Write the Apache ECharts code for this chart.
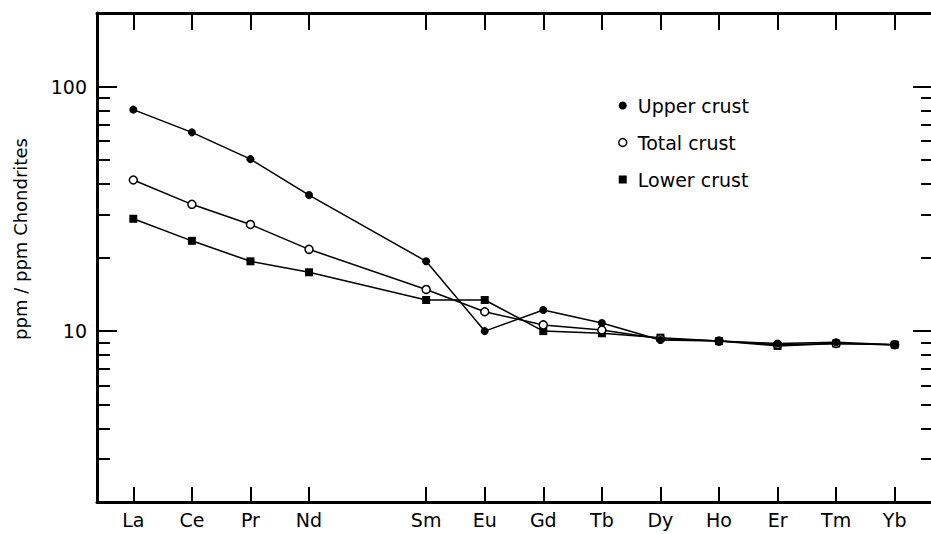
<!DOCTYPE html>
<html>
<head>
<meta charset="utf-8">
<script src="https://cdn.jsdelivr.net/npm/echarts@6/dist/echarts.min.js"></script>
<style>
html,body{margin:0;padding:0;background:#fff;}
#chart{width:931px;height:534px;}
</style>
</head>
<body>
<div id="chart"></div>
<script>
// Lanthanide sequence (Pm has no data and no tick)
const lanthanides = ['La','Ce','Pr','Nd','Pm','Sm','Eu','Gd','Tb','Dy','Ho','Er','Tm','Yb'];
const elements = ['La','Ce','Pr','Nd','Sm','Eu','Gd','Tb','Dy','Ho','Er','Tm','Yb'];
const upperCrust = [80.5, 65, 50.5, 36, 19.3, 10.0, 12.2, 10.8, 9.2, 9.1, 8.9, 9.0, 8.8];
const totalCrust = [41.5, 33, 27.3, 21.6, 14.8, 12.0, 10.6, 10.1, 9.3, 9.1, 8.8, 8.9, 8.8];
const lowerCrust = [28.8, 23.4, 19.3, 17.4, 13.4, 13.4, 10.0, 9.8, 9.4, 9.1, 8.7, 8.9, 8.8];
const yMajorTicks = [10, 100];
const yMinorTicks = [3, 4, 5, 6, 7, 8, 9, 20, 30, 40, 50, 60, 70, 80, 90];
const yLabels = [10, 100];
const seriesNames = ['Upper crust', 'Total crust', 'Lower crust'];

const slots = elements.map(e => lanthanides.indexOf(e));
const toData = vals => elements.map((e, i) => [lanthanides.indexOf(e), vals[i]]);

const FONT = 'DejaVu Sans';
const black = '#000';

const chart = echarts.init(document.getElementById('chart'), null, {renderer: 'svg'});

const xBase = {
  type: 'value', min: -0.62, max: 13.62,
  splitLine: {show: false}
};
const yBase = {
  type: 'log', logBase: 10, min: 2, max: 200,
  splitLine: {show: false}, minorTick: {show: false}
};

chart.setOption({
  animation: false,
  backgroundColor: '#fff',
  grid: {left: 97, right: -1, top: 13, bottom: 32, containLabel: false},
  legend: {
    orient: 'vertical', left: 613, top: 91, itemGap: 18,
    itemWidth: 8, itemHeight: 8,
    textStyle: {fontFamily: FONT, fontSize: 19, color: black, padding: [0, 0, 0, 6]},
    data: [
      {name: seriesNames[0], icon: 'circle', itemStyle: {color: black, borderWidth: 0}},
      {name: seriesNames[1], icon: 'circle', itemStyle: {color: '#fff', borderColor: black, borderWidth: 1.5}},
      {name: seriesNames[2], icon: 'rect', itemStyle: {color: black, borderWidth: 0}}
    ]
  },
  xAxis: [
    Object.assign({}, xBase, {
      position: 'bottom',
      axisLine: {show: true, onZero: false, lineStyle: {color: black, width: 3}},
      axisTick: {show: true, inside: true, length: 15, customValues: slots, lineStyle: {color: black, width: 2}},
      axisLabel: {show: true, customValues: slots, formatter: v => lanthanides[Math.round(v)],
        fontFamily: FONT, fontSize: 19, color: black, margin: 8}
    }),
    Object.assign({}, xBase, {
      position: 'top',
      axisLine: {show: true, onZero: false, lineStyle: {color: black, width: 3}},
      axisTick: {show: true, inside: true, length: 17, customValues: slots, lineStyle: {color: black, width: 2}},
      axisLabel: {show: false}
    })
  ],
  yAxis: [
    Object.assign({}, yBase, {
      position: 'left',
      axisLine: {show: true, onZero: false, lineStyle: {color: black, width: 3}},
      axisTick: {show: true, inside: true, length: 20, customValues: yMajorTicks, lineStyle: {color: black, width: 2}},
      axisLabel: {show: true, customValues: yLabels, fontFamily: FONT, fontSize: 19, color: black, margin: 10},
      name: 'ppm / ppm Chondrites', nameLocation: 'middle', nameGap: 68, nameRotate: 90,
      nameTextStyle: {fontFamily: FONT, fontSize: 18, color: black, padding: [0, 0, 0, 37]}
    }),
    Object.assign({}, yBase, {
      position: 'left',
      axisLine: {show: false, onZero: false},
      axisTick: {show: true, inside: true, length: 13, customValues: yMinorTicks, lineStyle: {color: black, width: 2}},
      axisLabel: {show: false}
    }),
    Object.assign({}, yBase, {
      position: 'right',
      axisLine: {show: false, onZero: false},
      axisTick: {show: true, inside: true, length: 18, customValues: yMajorTicks, lineStyle: {color: black, width: 2}},
      axisLabel: {show: false}
    }),
    Object.assign({}, yBase, {
      position: 'right',
      axisLine: {show: false, onZero: false},
      axisTick: {show: true, inside: true, length: 10, customValues: yMinorTicks, lineStyle: {color: black, width: 2}},
      axisLabel: {show: false}
    })
  ],
  series: [
    {
      name: seriesNames[2], type: 'line', xAxisIndex: 0, yAxisIndex: 0,
      data: toData(lowerCrust), symbol: 'rect', symbolSize: 8,
      lineStyle: {color: black, width: 1.5}, itemStyle: {color: black}
    },
    {
      name: seriesNames[1], type: 'line', xAxisIndex: 0, yAxisIndex: 0,
      data: toData(totalCrust), symbol: 'circle', symbolSize: 8,
      lineStyle: {color: black, width: 1.5}, itemStyle: {color: '#fff', borderColor: black, borderWidth: 1.5}
    },
    {
      name: seriesNames[0], type: 'line', xAxisIndex: 0, yAxisIndex: 0,
      data: toData(upperCrust), symbol: 'circle', symbolSize: 8,
      lineStyle: {color: black, width: 1.5}, itemStyle: {color: black}
    }
  ]
});
</script>
</body>
</html>
